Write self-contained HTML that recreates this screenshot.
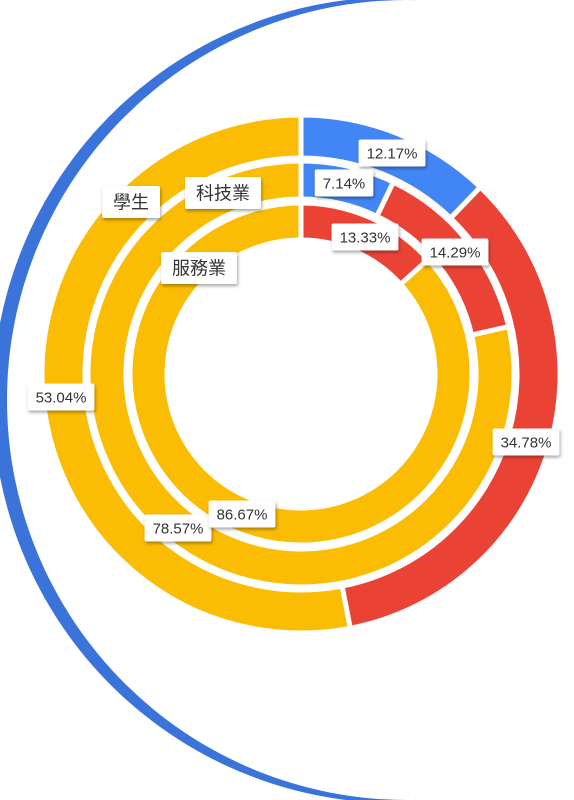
<!DOCTYPE html>
<html><head><meta charset="utf-8">
<style>
html,body{margin:0;padding:0;background:#fff;}
body{width:574px;height:800px;overflow:hidden;position:relative;}
svg{position:absolute;left:0;top:0;}
text{font-family:"Liberation Sans","Noto Sans CJK TC",sans-serif;}
</style></head>
<body>
<svg id="chart" width="574" height="800">
  <defs>
    <filter id="sh" x="-20%" y="-30%" width="150%" height="180%">
      <feDropShadow dx="1" dy="2" stdDeviation="1.5" flood-color="#000" flood-opacity="0.35"/>
    </filter>
    <clipPath id="leftHalf"><rect x="0" y="0" width="417" height="800"/></clipPath>
  </defs>
  <path fill="#3a74da" fill-rule="evenodd" clip-path="url(#leftHalf)"
    d="M407,0 A400,400 0 1,0 407,800 A400,400 0 1,0 407,0 Z M424,-2 A403,403 0 1,0 424,802 A403,403 0 1,0 424,-2 Z"/>
  <g id="rings"></g>
  <g id="labels"></g>
</svg>
<script>
const categories = ["學生", "科技業", "服務業"];
const seriesBlue = [12.17, 7.14, 0];
const seriesRed = [34.78, 14.29, 13.33];
const seriesYellow = [53.04, 78.57, 86.67];
const seriesNames = ["blue", "red", "yellow"];
const colors = ["#4285f4", "#ea4335", "#fbbc04"];

const cx = 301, cy = 374;
const ringRadii = [[216, 259], [175, 213], [134, 171]];
const NS = "http://www.w3.org/2000/svg";
const ringsG = document.getElementById("rings");
const labelsG = document.getElementById("labels");

function pt(r, frac) {
  const a = frac * 2 * Math.PI - Math.PI / 2;
  return [cx + r * Math.cos(a), cy + r * Math.sin(a)];
}
function arcPath(r0, r1, f0, f1) {
  const large = (f1 - f0) > 0.5 ? 1 : 0;
  const [x0, y0] = pt(r1, f0), [x1, y1] = pt(r1, f1);
  const [x2, y2] = pt(r0, f1), [x3, y3] = pt(r0, f0);
  return `M${x0},${y0} A${r1},${r1} 0 ${large},1 ${x1},${y1} L${x2},${y2} A${r0},${r0} 0 ${large},0 ${x3},${y3} Z`;
}
function addLabel(x, y, txt, name, fs, padX, padY) {
  const g = document.createElementNS(NS, "g");
  
  
  const t = document.createElementNS(NS, "text");
  t.setAttribute("x", x); t.setAttribute("y", y + fs * 0.36);
  t.setAttribute("text-anchor", "middle");
  t.setAttribute("font-size", fs);
  t.setAttribute("fill", "#333");
  t.textContent = txt;
  const rect = document.createElementNS(NS, "rect");
  g.appendChild(rect); g.appendChild(t);
  labelsG.appendChild(g);
  const w = t.getComputedTextLength() + padX * 2, h = fs + padY * 2;
  rect.setAttribute("x", x - w / 2); rect.setAttribute("y", y - h / 2);
  rect.setAttribute("width", w); rect.setAttribute("height", h);
  rect.setAttribute("rx", 2);
  rect.setAttribute("fill", "#fff");
  rect.setAttribute("filter", "url(#sh)");
}

const allSeries = [seriesBlue, seriesRed, seriesYellow];
categories.forEach((cat, i) => {
  const [r0, r1] = ringRadii[i];
  const total = seriesBlue[i] + seriesRed[i] + seriesYellow[i];
  let acc = 0;
  allSeries.forEach((s, k) => {
    const v = s[i];
    if (v <= 0) return;
    const f0 = acc / total, f1 = (acc + v) / total;
    acc += v;
    const p = document.createElementNS(NS, "path");
    p.setAttribute("d", arcPath(r0, r1, f0, f1));
    p.setAttribute("fill", colors[k]);
    p.setAttribute("stroke", "#fff");
    p.setAttribute("stroke-width", "5");
    
    
    ringsG.appendChild(p);
  });
});

const valueLabelPos = [
  [[392, 153], [526, 442], [61, 397]],
  [[344, 183], [455, 252], [178, 528]],
  [null, [365, 237], [242, 514]]
];
categories.forEach((cat, i) => {
  allSeries.forEach((s, k) => {
    const pos = valueLabelPos[i][k];
    if (!pos || s[i] <= 0) return;
    addLabel(pos[0], pos[1], s[i].toFixed(2) + "%", 'value-label-' + seriesNames[k] + '-ring-' + (i + 1), 15, 8, 6);
  });
});
const catLabelPos = [[131, 202], [223, 193], [199, 268]];
categories.forEach((cat, i) => {
  addLabel(catLabelPos[i][0], catLabelPos[i][1], cat, 'category-label-' + (i + 1), 18, 11, 7);
});
</script>
</body></html>
